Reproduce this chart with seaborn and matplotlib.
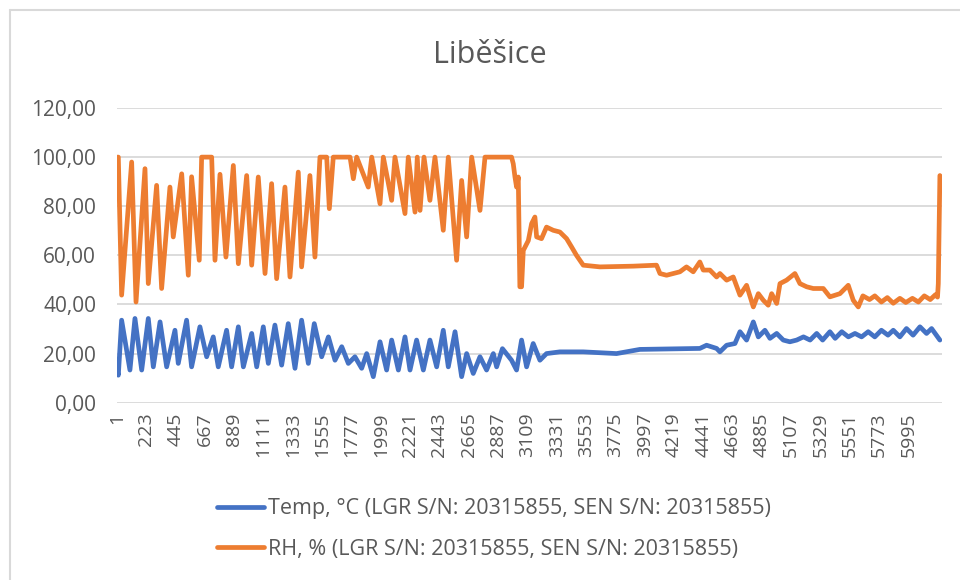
import matplotlib

matplotlib.use("Agg")  # no display
import matplotlib.pyplot as plt
from matplotlib.lines import Line2D
from matplotlib.ticker import FuncFormatter
import seaborn as sns
import pandas as pd

# values (sample index, value)
temp_index = [1, 11, 36, 99, 137, 188, 238, 276, 327, 377, 440, 465, 528, 566, 629, 680,
              730, 768, 831, 869, 920, 958, 1021, 1059, 1109, 1147, 1197, 1248, 1298, 1349,
              1399, 1450, 1495, 1551, 1602, 1652, 1703, 1753, 1803, 1854, 1892, 1942, 1993,
              2043, 2081, 2132, 2182, 2220, 2270, 2321, 2371, 2422, 2472, 2510, 2561, 2611,
              2649, 2699, 2750, 2800, 2851, 2876, 2920, 2989, 3027, 3065, 3103, 3153, 3204,
              3254, 3355, 3532, 3784, 3961, 4415, 4466, 4542, 4567, 4618, 4681, 4719, 4769,
              4820, 4858, 4908, 4946, 4997, 5047, 5097, 5148, 5200, 5250, 5300, 5345, 5400,
              5440, 5490, 5540, 5590, 5640, 5690, 5740, 5790, 5840, 5880, 5930, 5980, 6030,
              6082, 6132, 6170, 6233]
temp_values = [13.3, 11.2, 33.6, 13.3, 34.3, 13.3, 34.3, 14.6, 32.9, 14.6, 29.5, 16.0, 33.6,
               14.6, 30.9, 18.7, 26.8, 14.6, 29.5, 14.6, 30.9, 14.6, 28.2, 14.6, 30.9, 16.0,
               31.6, 15.3, 32.2, 14.0, 33.6, 16.0, 32.2, 18.7, 26.8, 17.3, 22.8, 16.0, 18.7,
               14.0, 20.0, 10.6, 24.8, 13.3, 25.5, 13.3, 26.8, 13.3, 25.5, 13.3, 25.5, 14.6,
               29.5, 14.6, 28.9, 10.6, 20.0, 11.9, 18.7, 13.3, 20.0, 14.6, 22.0, 17.3, 13.3,
               25.5, 14.6, 24.1, 17.3, 20.0, 20.7, 20.7, 20.0, 21.7, 22.1, 23.4, 22.1, 20.7,
               23.4, 24.1, 28.9, 25.5, 32.9, 26.8, 29.5, 26.2, 28.2, 25.5, 24.8, 25.5, 26.8,
               25.5, 28.2, 25.5, 28.9, 26.2, 28.9, 26.8, 28.2, 26.8, 28.9, 26.8, 29.5, 27.5,
               29.5, 26.8, 30.2, 27.5, 30.9, 28.2, 30.2, 25.5]

rh_index = [1, 5, 11, 36, 112, 145, 213, 238, 301, 339, 402, 427, 491, 541, 566, 624, 642,
            718, 743, 781, 826, 882, 920, 983, 1021, 1071, 1122, 1172, 1210, 1273, 1311,
            1374, 1399, 1462, 1500, 1538, 1589, 1609, 1639, 1766, 1791, 1816, 1904, 1930,
            1993, 2018, 2081, 2106, 2182, 2207, 2258, 2275, 2296, 2326, 2371, 2409, 2472,
            2510, 2573, 2611, 2649, 2687, 2750, 2788, 2989, 3002, 3015, 3027, 3040, 3052,
            3065, 3078, 3116, 3141, 3166, 3179, 3216, 3254, 3305, 3355, 3406, 3444, 3481,
            3532, 3658, 3911, 4087, 4113, 4163, 4264, 4314, 4365, 4415, 4441, 4491, 4542,
            4567, 4618, 4668, 4719, 4769, 4820, 4858, 4896, 4933, 4959, 4997, 5022, 5072,
            5135, 5173, 5224, 5274, 5350, 5400, 5476, 5539, 5577, 5615, 5650, 5700, 5740,
            5790, 5835, 5880, 5930, 5975, 6025, 6070, 6115, 6160, 6200, 6215, 6221, 6233]
rh_values = [95.0, 100.0, 100.0, 43.8, 98.0, 41.0, 95.3, 48.5, 88.5, 46.5, 87.8, 67.5, 93.2,
             51.9, 92.0, 58.0, 100.0, 100.0, 58.0, 93.0, 59.3, 96.6, 56.6, 92.5, 56.0, 91.9,
             52.6, 89.2, 50.5, 87.8, 51.2, 93.9, 55.3, 92.5, 59.3, 100.0, 100.0, 79.0, 100.0,
             100.0, 91.2, 100.0, 87.8, 100.0, 81.0, 100.0, 82.4, 100.0, 77.0, 100.0, 77.6,
             100.0, 78.3, 100.0, 82.4, 100.0, 70.2, 100.0, 58.0, 90.5, 67.5, 100.0, 78.3,
             100.0, 100.0, 97.3, 91.9, 87.8, 91.9, 47.2, 47.2, 62.0, 66.0, 72.9, 75.6, 67.5,
             66.8, 71.5, 70.2, 69.5, 66.8, 63.4, 60.0, 56.0, 55.3, 55.6, 56.0, 52.6, 51.9,
             53.3, 55.3, 53.3, 57.3, 54.0, 54.0, 51.2, 52.6, 49.9, 51.2, 43.8, 47.8, 39.0,
             44.4, 41.7, 39.7, 44.4, 40.4, 48.5, 49.9, 52.6, 48.5, 47.2, 46.5, 46.5, 43.1,
             44.4, 47.8, 41.7, 39.0, 43.5, 42.0, 43.5, 41.0, 42.8, 40.5, 42.5, 40.8, 42.5,
             41.0, 43.5, 42.0, 44.0, 43.0, 48.5, 92.5]

x_ticks = list(range(1, 6000, 222))
y_ticks = [0, 20, 40, 60, 80, 100, 120]

title = "Liběšice"
temp_label = "Temp, °C (LGR S/N: 20315855, SEN S/N: 20315855)"
rh_label = "RH, % (LGR S/N: 20315855, SEN S/N: 20315855)"

blue = "#4472C4"
orange = "#ED7D31"
text_grey = "#595959"
grid_grey = "#D9D9D9"

sns.set_theme(style="white")
plt.rcParams["font.family"] = ["Open Sans", "DejaVu Sans"]

fig = plt.figure(figsize=(9.6, 5.8), dpi=100)
ax = fig.add_axes([117 / 960, 1 - 402.7 / 580, 825 / 960, (402.7 - 108) / 580])

temp_df = pd.DataFrame({"idx": temp_index, "val": temp_values})
rh_df = pd.DataFrame({"idx": rh_index, "val": rh_values})

lw = 3.4
line_kw = dict(linewidth=lw, solid_joinstyle="round", solid_capstyle="round", legend=False)
sns.lineplot(data=temp_df, x="idx", y="val", ax=ax, color=blue, zorder=3, **line_kw)
sns.lineplot(data=rh_df, x="idx", y="val", ax=ax, color=orange, zorder=3, **line_kw)

ax.set_xlim(1, 6249)
ax.set_ylim(0, 120)
ax.set_xticks(x_ticks)
ax.set_xticklabels([str(t) for t in x_ticks], rotation=90)
ax.set_yticks(y_ticks)
ax.yaxis.set_major_formatter(FuncFormatter(lambda v, p: f"{v:.2f}".replace(".", ",")))
ax.set_xlabel("")
ax.set_ylabel("")
ax.tick_params(axis="both", length=0, colors=text_grey)
ax.tick_params(axis="y", pad=15, labelsize=15)
ax.tick_params(axis="x", pad=7, labelsize=14)
ax.yaxis.grid(True, color=grid_grey, linewidth=1.3, zorder=0)
ax.xaxis.grid(False)
for s in ax.spines.values():
    s.set_visible(False)
ax.set_facecolor("none")

fig.text(490 / 960, 1 - 55 / 580, title, ha="center", va="center", fontsize=22, color=text_grey)

handles = [Line2D([], [], color=blue, linewidth=lw), Line2D([], [], color=orange, linewidth=lw)]
fig.legend(handles, [temp_label, rh_label], loc="center", bbox_to_anchor=(494 / 960, 1 - 529 / 580),
           frameon=False, fontsize=15.5, handlelength=2.2, handletextpad=0.2, labelspacing=0.9,
           labelcolor=text_grey)

# chart area border (left and top edges visible in the screenshot)
fig.add_artist(Line2D([10 / 960, 10 / 960], [0, 1 - 10 / 580], transform=fig.transFigure,
                      color=grid_grey, linewidth=1.5))
fig.add_artist(Line2D([10 / 960, 1], [1 - 10 / 580, 1 - 10 / 580], transform=fig.transFigure,
                      color=grid_grey, linewidth=1.5))

fig.savefig("out.png", dpi=100)
plt.close(fig)
